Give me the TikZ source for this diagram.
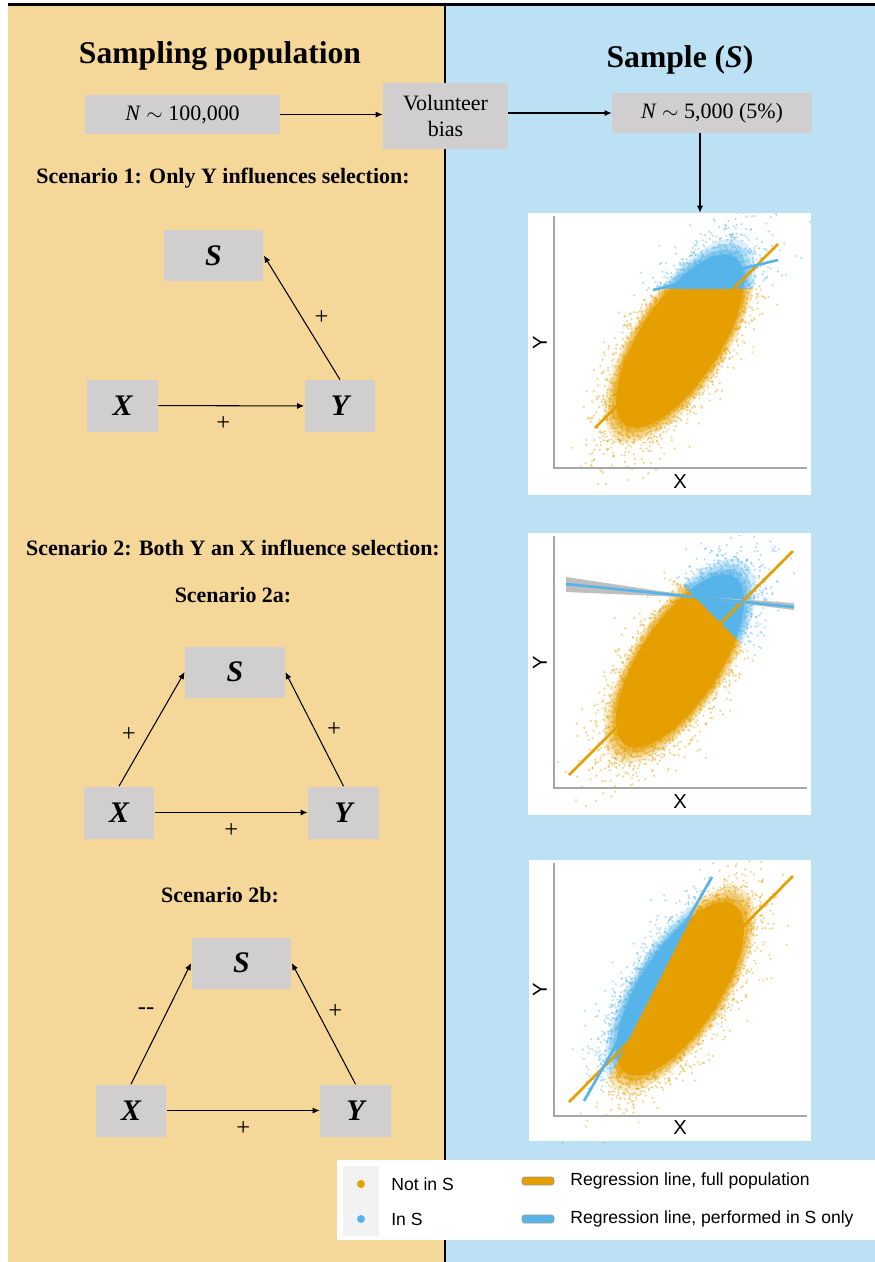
\documentclass[tikz,border=0pt]{standalone}
\usepackage{fontspec}
\setmainfont{Liberation Serif}
\newfontfamily\plotfont{Liberation Sans}
\usetikzlibrary{arrows.meta,positioning,calc}

\definecolor{popbg}{HTML}{F5D899}
\definecolor{sampbg}{HTML}{BDE1F4}
\definecolor{boxgray}{HTML}{D0CECE}
\definecolor{notS}{HTML}{E69F00}
\definecolor{inS}{HTML}{56B4E9}
\definecolor{keybg}{HTML}{F2F2F2}

% centre of the simulated cloud (local plot coordinates, y up), #2 = size
\newcommand\cloudcore[2]{%
  \fill[#1] plot[domain=0:360,samples=73]
    ({126+#2*100*cos(\x)*cos(57)-#2*40*sin(\x)*sin(57)},{127+#2*100*cos(\x)*sin(57)+#2*40*sin(\x)*cos(57)}) -- cycle;}
\newcommand\cloudblob[1]{%
  \cloudcore{#1, fill opacity=0.22}{1.18}
  \cloudcore{#1, fill opacity=0.3}{1.12}
  \cloudcore{#1, fill opacity=0.45}{1.06}
  \cloudcore{#1}{1}}

% loose dots round the centre, #1 = test for "in S", #2 = number of dots
\newcommand\dotcloud[2]{%
  \foreach \k in {1,...,#2}{%
    \pgfmathsetmacro\dotr{sqrt(3.6-2*ln(0.0001+0.9999*rnd))}%
    \pgfmathsetmacro\dota{360*rnd}%
    \pgfmathsetmacro\dotx{126+\dotr*cos(\dota)*46*cos(57)-\dotr*sin(\dota)*19*sin(57)}%
    \pgfmathsetmacro\doty{127+\dotr*cos(\dota)*46*sin(57)+\dotr*sin(\dota)*19*cos(57)}%
    \pgfmathparse{(#1) ? 1 : 0}%
    \ifdim\pgfmathresult pt>0.5pt
      \fill[seldot] (\dotx,\doty) circle[radius=1.2];
    \else
      \fill[popdot] (\dotx,\doty) circle[radius=1.2];
    \fi
  }}

\begin{document}
\begin{tikzpicture}[x=0.02cm, y=-0.02cm,
    head/.style={font=\fontsize{18}{21}\selectfont\bfseries, inner sep=0pt, anchor=base},
    scen/.style={font=\fontsize{12.5}{15}\selectfont\bfseries, inner sep=0pt, anchor=base},
    box/.style={fill=boxgray, align=center, font=\fontsize{12.5}{15}\selectfont, inner sep=2pt},
    varS/.style={fill=boxgray, minimum width=2cm, minimum height=1.02cm, font=\fontsize{17}{19}\selectfont\bfseries\itshape},
    varXY/.style={fill=boxgray, minimum width=1.42cm, minimum height=1.04cm, font=\fontsize{17}{19}\selectfont\bfseries\itshape},
    arr/.style={-{Latex[length=4pt,width=3.5pt]}, line width=0.6pt},
    lbl/.style={font=\fontsize{14}{16}\selectfont, inner sep=3pt},
    panel/.style={fill=white, minimum width=5.66cm, minimum height=5.64cm, inner sep=0pt},
    axis/.style={draw=black!35, line width=1.3},
    axlbl/.style={font=\fontsize{11.5}{13}\selectfont\plotfont, inner sep=0pt},
    popdot/.style={notS, fill opacity=0.45},
    seldot/.style={inS, fill opacity=0.45},
    fitline/.style={notS, line width=1.5},
    selline/.style={inS, line width=1.5},
    legtxt/.style={font=\fontsize{10}{12}\selectfont\plotfont, anchor=west, inner sep=0pt}
]
\useasboundingbox (0,0) rectangle (875,1262);

% two halves
\fill[popbg] (8,5) rectangle (445,1262);
\fill[sampbg] (445,5) rectangle (875,1262);
\draw[line width=1.5] (8,4.5) -- (875,4.5);
\draw[line width=1.3] (445,4.5) -- (445,1262);

\node[head] (poptitle) at (220,63) {Sampling population};
\node[head] (samptitle) at (680,67) {Sample (\textit{S})};

\node[box, minimum width=3.9cm, minimum height=0.78cm] (npop) at (182.5,114.5) {\textit{N} $\sim$ 100,000};
\node[box, minimum width=2.5cm, minimum height=1.32cm] (volbias) at (445.5,116) {Volunteer\\bias};
\node[box, minimum width=4cm, minimum height=0.8cm] (nsample) at (712,113) {\textit{N} $\sim$ 5,000 (5\%)};
\draw[arr] (npop.east) -- (volbias.west |- npop.east);
\draw[arr] (volbias.east |- nsample.west) -- (nsample.west);

% scenario 1
\node[scen] (scen1) at (223,183) {Scenario 1: Only Y influences selection:};
\node[varS] (s1) at (213.5,255.5) {S};
\node[varXY] (x1) at (122.5,405.5) {X};
\node[varXY] (y1) at (340,406) {Y};
\draw[arr] (x1) -- node[lbl, below=3pt, xshift=-0.16cm] {+} (y1);
\draw[arr] (y1.north) -- node[lbl, right=4pt] {+} (s1.east);

% scenario 2
\node[scen] (scen2) at (233,555) {Scenario 2: Both Y an X influence selection:};
\node[scen] (scen2a) at (233,602) {Scenario 2a:};
\node[varS] (s2) at (235,672) {S};
\node[varXY] (x2) at (119,812.5) {X};
\node[varXY] (y2) at (343.5,812.5) {Y};
\draw[arr] (x2) -- node[lbl, below=3pt] {+} (y2);
\draw[arr] (x2.north) -- node[lbl, pos=0.45, left=4pt] {+} (s2.west);
\draw[arr] (y2.north) -- node[lbl, right=4pt] {+} (s2.east);

\node[scen] (scen2b) at (220,902) {Scenario 2b:};
\node[varS] (s3) at (241.5,963) {S};
\node[varXY] (x3) at (131,1110.5) {X};
\node[varXY] (y3) at (355.5,1110.5) {Y};
\draw[arr] (x3) -- node[lbl, below=3pt] {+} (y3);
\draw[arr] (x3.north) -- node[lbl, pos=0.6, left=4pt] {-{}-} (s3.west);
\draw[arr] (y3.north) -- node[lbl, pos=0.6, right=3pt] {+} (s3.east);

% plot 1: selection on Y
\node[panel] (plot1) at (669.5,354) {};
\draw[arr] ([xshift=-0.24cm]nsample.south) -- ([xshift=-0.24cm]nsample.south |- plot1.north);
\begin{scope}[shift={(554,468)}, yscale=-1]
  \clip (-26,-27) rectangle (257,255);
  \begin{scope} \clip (-30,-30) rectangle (260,180); \cloudblob{notS} \end{scope}
  \begin{scope} \clip (-30,180) rectangle (260,260); \cloudblob{inS} \end{scope}
  \pgfmathsetseed{11}
  \dotcloud{\doty>180}{1950}
  \draw[axis] (0,252) -- (0,0) -- (253,0);
  \draw[fitline] (41,40) -- (224,224);
  \draw[selline] (99,178) -- (224,208);
\end{scope}
\node[axlbl, rotate=90] (ylab1) at (540,343) {Y};
\node[axlbl] (xlab1) at (680,482) {X};

% plot 2: selection on X and Y
\node[panel] (plot2) at (669.5,674) {};
\begin{scope}[shift={(554,788)}, yscale=-1]
  \clip (-26,-27) rectangle (257,255);
  \begin{scope} \clip (-30,-30) -- (300,-30) -- (300,32) -- (-30,362) -- cycle; \cloudblob{notS} \end{scope}
  \begin{scope} \clip (300,32) -- (300,362) -- (-30,362) -- cycle; \cloudblob{inS} \end{scope}
  \pgfmathsetseed{23}
  \dotcloud{\dotx+\doty>332}{1950}
  \draw[axis] (0,252) -- (0,0) -- (253,0);
  \fill[black!25] (12,196) -- (139,190.5) -- (240,178) -- (240,185) -- (139,192) -- (12,211) -- cycle;
  \draw[fitline] (15,13) -- (239,237);
  \draw[selline] (12,204) -- (240,181);
\end{scope}
\node[axlbl, rotate=90] (ylab2) at (540,663) {Y};
\node[axlbl] (xlab2) at (680,802) {X};

% plot 3: X against selection
\node[panel] (plot3) at (670,1000.5) {};
\begin{scope}[shift={(554,1116)}, yscale=-1]
  \clip (-26,-27) rectangle (258,258);
  \begin{scope} \clip (-30,-127.5) -- (300,516) -- (300,-127.5) -- cycle; \cloudblob{notS} \end{scope}
  \begin{scope} \clip (-30,-127.5) -- (300,516) -- (-30,516) -- cycle; \cloudblob{inS} \end{scope}
  \pgfmathsetseed{37}
  \dotcloud{\doty-1.95*\dotx>-69}{1950}
  \draw[axis] (0,253) -- (0,0) -- (253,0);
  \draw[fitline] (15,14) -- (239,240);
  \draw[selline] (30,15) -- (158,239);
\end{scope}
\node[axlbl, rotate=90] (ylab3) at (540,990) {Y};
\node[axlbl] (xlab3) at (680,1128) {X};

% legend
\fill[white] (337,1160) rectangle (875,1240);
\fill[keybg] (343,1166) rectangle (379,1236);
\fill[notS] (361,1184) circle[radius=4];
\fill[inS] (361,1219) circle[radius=4];
\node[legtxt] (leg1) at (391,1184) {Not in S};
\node[legtxt] (leg2) at (391,1219) {In S};
\draw[black!40, fill=notS, rounded corners=1.5] (522,1177) rectangle (554,1185);
\draw[black!40, fill=inS, rounded corners=1.5] (522,1215) rectangle (554,1223);
\node[legtxt] (leg3) at (570,1181) {Regression line, full population};
\node[legtxt] (leg4) at (570,1219) {Regression line, performed in S only};
\end{tikzpicture}
\end{document}
